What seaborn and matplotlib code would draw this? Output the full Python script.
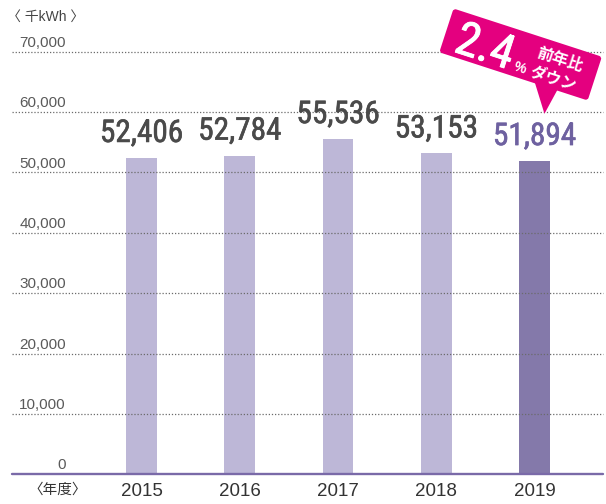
import matplotlib
matplotlib.use("Agg")
import matplotlib.pyplot as plt
import matplotlib.patheffects as pe
from matplotlib.patches import FancyBboxPatch, Polygon
from matplotlib.transforms import Affine2D
import seaborn as sns
import pandas as pd

# Annual electricity use (thousand kWh)
years = ["2015", "2016", "2017", "2018", "2019"]
usage = [52406, 52784, 55536, 53153, 51894]
y_ticks = [0, 10000, 20000, 30000, 40000, 50000, 60000, 70000]
y_tick_labels = ["0", "10,000", "20,000", "30,000", "40,000", "50,000", "60,000", "70,000"]
unit_label = "〈 千kWh 〉"
year_label = "〈年度〉"
change_value = "2.4"
change_unit = "%"
change_text = ["前年比", "ダウン"]

LIGHT = "#bdb7d7"
DARK = "#8479aa"
AXIS = "#7a6aa8"
PINK = "#e4007f"
LABEL = "#4a4a4a"
HILITE = "#6e61a0"

sns.set_theme(style="white")
plt.rcParams["font.family"] = ["Liberation Sans", "Noto Sans CJK JP", "DejaVu Sans"]
COND = ["Roboto Condensed", "Liberation Sans Narrow", "DejaVu Sans"]

W, H = 606, 504
fig = plt.figure(figsize=(W / 100, H / 100), dpi=100, facecolor="white")
x0, x1, y_base, y_top = 12, 603, 474.3, 51.7
ax = fig.add_axes([x0 / W, (H - y_base) / H, (x1 - x0) / W, (y_base - y_top) / H])

df = pd.DataFrame({"year": years, "value": usage})
palette = [LIGHT] * (len(years) - 1) + [DARK]
sns.barplot(data=df, x="year", y="value", hue="year", palette=palette,
            width=0.3155, saturation=1, legend=False, ax=ax,
            linewidth=0, zorder=2)

step = 98.25
cx0 = 141.5
ax.set_xlim((x0 - cx0) / step, (x1 - cx0) / step)
ax.set_ylim(0, 70000)
ax.set_xlabel("")
ax.set_ylabel("")
for s in ax.spines.values():
    s.set_visible(False)
ax.set_yticks([])

# dotted grid over the bars, solid baseline
for v in y_ticks[1:]:
    ax.axhline(v, color="#6b6b6b", lw=0.9, ls=(0, (1, 1.5)), zorder=3, clip_on=False)
ax.axhline(0, color=AXIS, lw=1.7, zorder=4, clip_on=False)

# y labels sit above their gridlines
lab_x = (66 - cx0) / step
for v, lab in zip(y_ticks, y_tick_labels):
    ax.annotate(lab, xy=(lab_x, v), xytext=(0, 3.5), textcoords="offset points",
                ha="right", va="baseline", fontsize=11, color="#5a5a5a")

ax.set_xticks(range(len(years)))
ax.set_xticklabels(years)
ax.tick_params(axis="x", length=0, pad=6, labelsize=13.5, labelcolor="#333333")
ax.annotate(year_label, xy=((57.5 - cx0) / step, 0), xycoords=("data", "data"),
            xytext=(0, -6), textcoords="offset points", ha="center", va="top",
            fontsize=10.5, color="#333333", annotation_clip=False)

fig.text(7 / W, 1 - 17 / H, unit_label, ha="left", va="center", fontsize=10, color="#444444")

# value labels (regular cut thickened slightly with a matching stroke)
for i, v in enumerate(usage):
    col = HILITE if i == len(usage) - 1 else LABEL
    ax.annotate(f"{v:,}", xy=(i, v), xytext=(0, 11.5), textcoords="offset points",
                ha="center", va="baseline", fontsize=22.5, color=col,
                family=COND, weight="normal",
                path_effects=[pe.withStroke(linewidth=0.45, foreground=col)])

# callout for the year-on-year change
rot = Affine2D().rotate_deg(-18).translate(520.6, H - 54.5)
fig.add_artist(FancyBboxPatch((-78, -23), 156, 46,
                              boxstyle="round,pad=0,rounding_size=3",
                              transform=rot, fc=PINK, ec="none", zorder=10))
fig.add_artist(Polygon([(22, -22), (46, -22), (41, -49)], closed=True,
                       transform=rot, fc=PINK, ec="none", zorder=10))
fig.text(-36, -18, change_value, transform=rot, rotation=-18, rotation_mode="anchor",
         ha="center", va="baseline", fontsize=34, color="white", family=COND,
         weight="normal", zorder=11,
         path_effects=[pe.withStroke(linewidth=0.6, foreground="white")])
fig.text(3, -17, change_unit, transform=rot, rotation=-18, rotation_mode="anchor",
         ha="center", va="baseline", fontsize=10, color="white", weight="bold", zorder=11)
fig.text(39, 7.4, change_text[0], transform=rot, rotation=-18, rotation_mode="anchor",
         ha="center", va="center", fontsize=11.5, color="white",
         family=["Noto Sans CJK JP"], weight="bold", zorder=11)
fig.text(39, -13, change_text[1], transform=rot, rotation=-18, rotation_mode="anchor",
         ha="center", va="center", fontsize=11.5, color="white",
         family=["Noto Sans CJK JP"], weight="bold", zorder=11)

fig.savefig("out.png", dpi=100, facecolor="white")
